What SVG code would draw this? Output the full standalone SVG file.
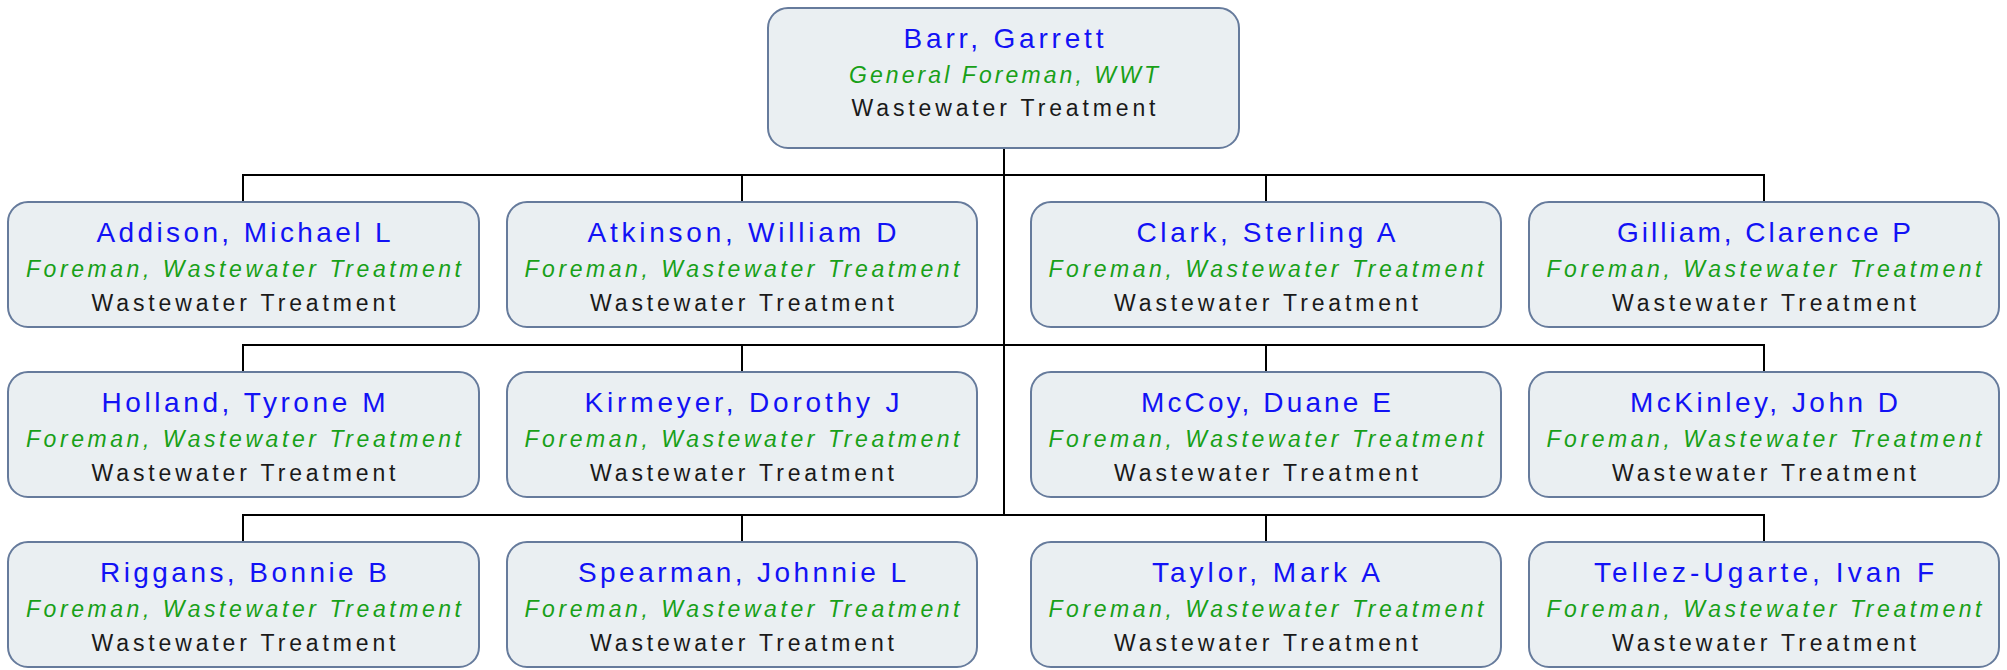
<svg xmlns="http://www.w3.org/2000/svg" width="2007" height="670" viewBox="0 0 2007 670">
<style>
.box{fill:#EAEFF2;stroke:#667B9C;stroke-width:2}
.nm{font-family:"Liberation Sans",Arial,sans-serif;font-size:28px;fill:#1212F5;text-anchor:middle}
.tt{font-family:"Liberation Sans",Arial,sans-serif;font-size:23px;font-style:italic;fill:#18A018;text-anchor:middle}
.dp{font-family:"Liberation Sans",Arial,sans-serif;font-size:23px;fill:#1A1A1A;text-anchor:middle}
.ln{fill:none;stroke:#000;stroke-width:2}
</style>
<rect width="2007" height="670" fill="#fff"/>
<g id="connectors" class="ln">
<path d="M1004 148V515"/>
<path d="M243 202V175H1764V202M742 175V202M1266 175V202"/>
<path d="M243 372V345H1764V372M742 345V372M1266 345V372"/>
<path d="M243 542V515H1764V542M742 515V542M1266 515V542"/>
</g>
<g id="barr">
<rect class="box" x="768" y="8" width="471" height="140" rx="20"/>
<text class="nm" x="1003.5" y="48" textLength="200" lengthAdjust="spacing">Barr, Garrett</text>
<text class="tt" x="1003.5" y="83" textLength="309" lengthAdjust="spacing">General Foreman, WWT</text>
<text class="dp" x="1003.5" y="116" textLength="304" lengthAdjust="spacing">Wastewater Treatment</text>
</g>
<g id="addison">
<rect class="box" x="8" y="202" width="471" height="125" rx="20"/>
<text class="nm" x="243.5" y="242" textLength="294" lengthAdjust="spacing">Addison, Michael L</text>
<text class="tt" x="243.5" y="277" textLength="435" lengthAdjust="spacing">Foreman, Wastewater Treatment</text>
<text class="dp" x="243.5" y="311" textLength="304" lengthAdjust="spacing">Wastewater Treatment</text>
</g>
<g id="atkinson">
<rect class="box" x="507" y="202" width="470" height="125" rx="20"/>
<text class="nm" x="742" y="242" textLength="309" lengthAdjust="spacing">Atkinson, William D</text>
<text class="tt" x="742" y="277" textLength="435" lengthAdjust="spacing">Foreman, Wastewater Treatment</text>
<text class="dp" x="742" y="311" textLength="304" lengthAdjust="spacing">Wastewater Treatment</text>
</g>
<g id="clark">
<rect class="box" x="1031" y="202" width="470" height="125" rx="20"/>
<text class="nm" x="1266" y="242" textLength="259" lengthAdjust="spacing">Clark, Sterling A</text>
<text class="tt" x="1266" y="277" textLength="435" lengthAdjust="spacing">Foreman, Wastewater Treatment</text>
<text class="dp" x="1266" y="311" textLength="304" lengthAdjust="spacing">Wastewater Treatment</text>
</g>
<g id="gilliam">
<rect class="box" x="1529" y="202" width="470" height="125" rx="20"/>
<text class="nm" x="1764" y="242" textLength="294" lengthAdjust="spacing">Gilliam, Clarence P</text>
<text class="tt" x="1764" y="277" textLength="435" lengthAdjust="spacing">Foreman, Wastewater Treatment</text>
<text class="dp" x="1764" y="311" textLength="304" lengthAdjust="spacing">Wastewater Treatment</text>
</g>
<g id="holland">
<rect class="box" x="8" y="372" width="471" height="125" rx="20"/>
<text class="nm" x="243.5" y="412" textLength="284" lengthAdjust="spacing">Holland, Tyrone M</text>
<text class="tt" x="243.5" y="447" textLength="435" lengthAdjust="spacing">Foreman, Wastewater Treatment</text>
<text class="dp" x="243.5" y="481" textLength="304" lengthAdjust="spacing">Wastewater Treatment</text>
</g>
<g id="kirmeyer">
<rect class="box" x="507" y="372" width="470" height="125" rx="20"/>
<text class="nm" x="742" y="412" textLength="315" lengthAdjust="spacing">Kirmeyer, Dorothy J</text>
<text class="tt" x="742" y="447" textLength="435" lengthAdjust="spacing">Foreman, Wastewater Treatment</text>
<text class="dp" x="742" y="481" textLength="304" lengthAdjust="spacing">Wastewater Treatment</text>
</g>
<g id="mccoy">
<rect class="box" x="1031" y="372" width="470" height="125" rx="20"/>
<text class="nm" x="1266" y="412" textLength="250" lengthAdjust="spacing">McCoy, Duane E</text>
<text class="tt" x="1266" y="447" textLength="435" lengthAdjust="spacing">Foreman, Wastewater Treatment</text>
<text class="dp" x="1266" y="481" textLength="304" lengthAdjust="spacing">Wastewater Treatment</text>
</g>
<g id="mckinley">
<rect class="box" x="1529" y="372" width="470" height="125" rx="20"/>
<text class="nm" x="1764" y="412" textLength="268" lengthAdjust="spacing">McKinley, John D</text>
<text class="tt" x="1764" y="447" textLength="435" lengthAdjust="spacing">Foreman, Wastewater Treatment</text>
<text class="dp" x="1764" y="481" textLength="304" lengthAdjust="spacing">Wastewater Treatment</text>
</g>
<g id="riggans">
<rect class="box" x="8" y="542" width="471" height="125" rx="20"/>
<text class="nm" x="243.5" y="582" textLength="287" lengthAdjust="spacing">Riggans, Bonnie B</text>
<text class="tt" x="243.5" y="617" textLength="435" lengthAdjust="spacing">Foreman, Wastewater Treatment</text>
<text class="dp" x="243.5" y="651" textLength="304" lengthAdjust="spacing">Wastewater Treatment</text>
</g>
<g id="spearman">
<rect class="box" x="507" y="542" width="470" height="125" rx="20"/>
<text class="nm" x="742" y="582" textLength="328" lengthAdjust="spacing">Spearman, Johnnie L</text>
<text class="tt" x="742" y="617" textLength="435" lengthAdjust="spacing">Foreman, Wastewater Treatment</text>
<text class="dp" x="742" y="651" textLength="304" lengthAdjust="spacing">Wastewater Treatment</text>
</g>
<g id="taylor">
<rect class="box" x="1031" y="542" width="470" height="125" rx="20"/>
<text class="nm" x="1266" y="582" textLength="228" lengthAdjust="spacing">Taylor, Mark A</text>
<text class="tt" x="1266" y="617" textLength="435" lengthAdjust="spacing">Foreman, Wastewater Treatment</text>
<text class="dp" x="1266" y="651" textLength="304" lengthAdjust="spacing">Wastewater Treatment</text>
</g>
<g id="tellez-ugarte">
<rect class="box" x="1529" y="542" width="470" height="125" rx="20"/>
<text class="nm" x="1764" y="582" textLength="340" lengthAdjust="spacing">Tellez-Ugarte, Ivan F</text>
<text class="tt" x="1764" y="617" textLength="435" lengthAdjust="spacing">Foreman, Wastewater Treatment</text>
<text class="dp" x="1764" y="651" textLength="304" lengthAdjust="spacing">Wastewater Treatment</text>
</g>
</svg>
